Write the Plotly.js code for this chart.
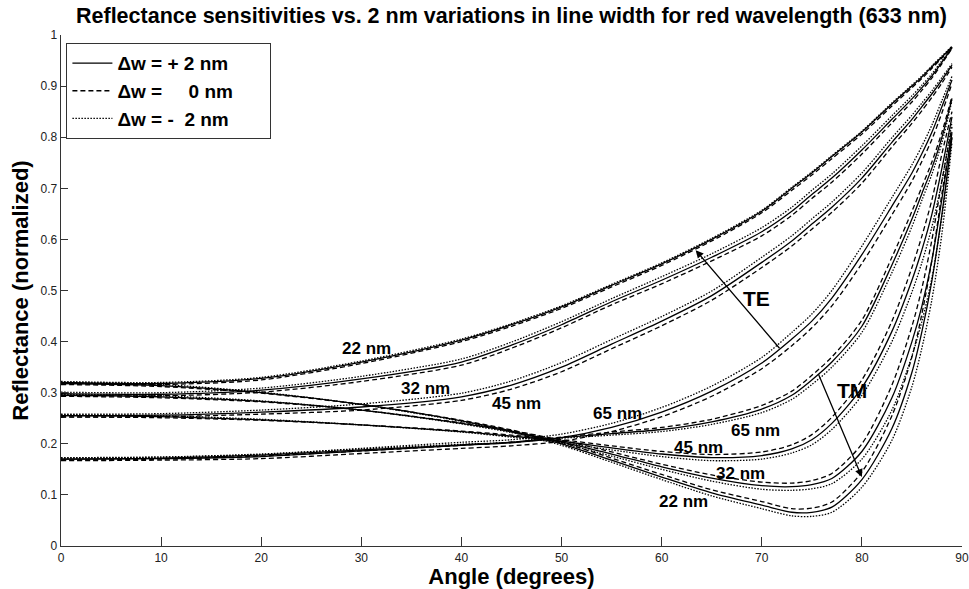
<!DOCTYPE html>
<html>
<head>
<meta charset="utf-8">
<script src="https://cdn.plot.ly/plotly-3.0.1.min.js"></script>
<style>html,body{margin:0;padding:0;background:#fff;}#chart{width:969px;height:589px;}</style>
</head>
<body>
<div id="chart"></div>
<script>
// Angle grid (degrees)
const angle = [0,10,20,30,40,45,50,55,60,65,70,73,75,77,80,83,85,86,87,88,89];

// Legend labels (line-width variation)
const variantLabels = ["\u0394w = + 2 nm", "\u0394w =  \u00A0\u00A0 0 nm", "\u0394w = - \u00A02 nm"];

// TE curves (rising)
const te22_p2 = [0.320,0.318,0.328,0.360,0.403,0.433,0.468,0.510,0.552,0.600,0.655,0.700,0.730,0.762,0.810,0.865,0.900,0.918,0.938,0.957,0.977];
const te22_0  = [0.318,0.316,0.325,0.357,0.400,0.430,0.465,0.507,0.549,0.597,0.652,0.696,0.726,0.758,0.806,0.861,0.897,0.915,0.935,0.955,0.976];
const te22_m2 = [0.322,0.320,0.330,0.362,0.405,0.435,0.470,0.512,0.554,0.602,0.657,0.702,0.732,0.764,0.812,0.867,0.902,0.920,0.940,0.959,0.978];

const te32_p2 = [0.298,0.297,0.305,0.327,0.360,0.393,0.433,0.478,0.520,0.565,0.615,0.655,0.688,0.720,0.775,0.835,0.875,0.897,0.920,0.947,0.975];
const te32_0  = [0.295,0.294,0.301,0.322,0.354,0.387,0.427,0.472,0.513,0.558,0.607,0.647,0.680,0.712,0.767,0.828,0.869,0.892,0.916,0.944,0.974];
const te32_m2 = [0.301,0.300,0.309,0.332,0.366,0.399,0.439,0.484,0.527,0.572,0.623,0.663,0.696,0.728,0.783,0.842,0.881,0.902,0.924,0.950,0.976];

const te45_p2 = [0.255,0.256,0.262,0.272,0.292,0.315,0.350,0.395,0.440,0.490,0.555,0.597,0.630,0.663,0.720,0.790,0.835,0.860,0.885,0.912,0.941];
const te45_0  = [0.252,0.253,0.258,0.266,0.285,0.307,0.341,0.386,0.431,0.481,0.545,0.587,0.620,0.653,0.710,0.781,0.827,0.852,0.878,0.906,0.937];
const te45_m2 = [0.258,0.259,0.266,0.278,0.299,0.323,0.359,0.404,0.449,0.499,0.565,0.607,0.640,0.673,0.730,0.799,0.843,0.867,0.891,0.917,0.944];

const te65_p2 = [0.170,0.171,0.175,0.186,0.197,0.202,0.212,0.232,0.262,0.303,0.358,0.405,0.440,0.485,0.570,0.665,0.730,0.768,0.810,0.860,0.912];
const te65_0  = [0.167,0.168,0.171,0.181,0.191,0.196,0.205,0.224,0.253,0.293,0.347,0.392,0.427,0.470,0.553,0.648,0.714,0.753,0.796,0.848,0.905];
const te65_m2 = [0.173,0.174,0.179,0.191,0.203,0.208,0.219,0.240,0.271,0.313,0.369,0.418,0.454,0.500,0.587,0.682,0.746,0.783,0.824,0.872,0.919];

// TM curves (dip then rise)
const tm22_p2 = [0.318,0.314,0.300,0.277,0.245,0.225,0.200,0.168,0.135,0.104,0.080,0.066,0.066,0.076,0.130,0.230,0.340,0.420,0.520,0.650,0.800];
const tm22_0  = [0.316,0.312,0.299,0.277,0.246,0.227,0.203,0.172,0.140,0.110,0.087,0.073,0.074,0.086,0.145,0.255,0.370,0.455,0.560,0.690,0.810];
const tm22_m2 = [0.320,0.316,0.301,0.277,0.244,0.223,0.197,0.164,0.130,0.098,0.073,0.059,0.058,0.066,0.115,0.207,0.312,0.388,0.483,0.612,0.790];

const tm32_p2 = [0.295,0.292,0.283,0.266,0.240,0.224,0.204,0.180,0.155,0.133,0.118,0.116,0.120,0.132,0.185,0.290,0.400,0.470,0.560,0.680,0.810];
const tm32_0  = [0.293,0.290,0.282,0.266,0.241,0.226,0.207,0.184,0.160,0.139,0.125,0.123,0.128,0.142,0.200,0.315,0.430,0.505,0.600,0.715,0.820];
const tm32_m2 = [0.297,0.294,0.284,0.266,0.239,0.222,0.201,0.176,0.150,0.127,0.111,0.109,0.112,0.122,0.170,0.266,0.372,0.440,0.525,0.645,0.800];

const tm45_p2 = [0.255,0.253,0.247,0.237,0.224,0.215,0.205,0.192,0.180,0.173,0.177,0.190,0.208,0.240,0.310,0.420,0.520,0.580,0.650,0.740,0.840];
const tm45_0  = [0.253,0.251,0.246,0.237,0.225,0.217,0.208,0.196,0.185,0.179,0.184,0.198,0.218,0.252,0.325,0.440,0.545,0.607,0.678,0.768,0.850];
const tm45_m2 = [0.257,0.255,0.248,0.237,0.223,0.213,0.202,0.188,0.175,0.167,0.170,0.182,0.198,0.228,0.295,0.400,0.497,0.555,0.625,0.715,0.830];

const tm65_p2 = [0.170,0.172,0.178,0.188,0.198,0.203,0.212,0.220,0.228,0.243,0.268,0.295,0.325,0.360,0.430,0.550,0.640,0.690,0.740,0.800,0.876];
const tm65_0  = [0.168,0.170,0.176,0.186,0.197,0.203,0.213,0.223,0.232,0.248,0.275,0.303,0.334,0.370,0.442,0.565,0.655,0.703,0.752,0.810,0.880];
const tm65_m2 = [0.172,0.174,0.180,0.190,0.199,0.203,0.211,0.217,0.224,0.238,0.261,0.287,0.316,0.350,0.418,0.535,0.625,0.677,0.728,0.790,0.872];

const curves = [
  {name:"TE 22 nm", v:[te22_p2, te22_0, te22_m2]},
  {name:"TE 32 nm", v:[te32_p2, te32_0, te32_m2]},
  {name:"TE 45 nm", v:[te45_p2, te45_0, te45_m2]},
  {name:"TE 65 nm", v:[te65_p2, te65_0, te65_m2]},
  {name:"TM 22 nm", v:[tm22_p2, tm22_0, tm22_m2]},
  {name:"TM 32 nm", v:[tm32_p2, tm32_0, tm32_m2]},
  {name:"TM 45 nm", v:[tm45_p2, tm45_0, tm45_m2]},
  {name:"TM 65 nm", v:[tm65_p2, tm65_0, tm65_m2]}
];

const dashes = ["solid", "5px,3px", "1.5px,1.5px"];
const traces = [];
curves.forEach((c, ci) => {
  c.v.forEach((ys, vi) => {
    traces.push({
      type: "scatter", mode: "lines",
      x: angle, y: ys,
      name: ci === 0 ? variantLabels[vi] + "\u00A0\u00A0\u00A0\u00A0\u00A0\u00A0" : c.name + " " + variantLabels[vi],
      legendgroup: "v" + vi,
      showlegend: ci === 0,
      line: {color: "#000", width: 1.3, dash: dashes[vi], shape: "spline", smoothing: 0.8},
      hoverinfo: "skip"
    });
  });
});

const lblFont = {family: "Liberation Sans, Arial, sans-serif", size: 17, color: "#000", weight: "bold"};
function lab(text, x, y, size) {
  return {text: text, x: x, y: y, xref: "x", yref: "y", showarrow: false,
          font: Object.assign({}, lblFont, size ? {size: size} : {})};
}
const annotations = [
  lab("22 nm", 30.5, 0.386),
  lab("32 nm", 36.4, 0.309),
  lab("45 nm", 45.5, 0.279),
  lab("65 nm", 55.6, 0.260),
  lab("65 nm", 69.4, 0.227),
  lab("45 nm", 63.7, 0.192),
  lab("32 nm", 67.9, 0.141),
  lab("22 nm", 62.2, 0.088),
  lab("TE", 69.5, 0.485, 21),
  lab("TM", 79.0, 0.305, 21),
  {x: 63.4, y: 0.579, ax: 71.9, ay: 0.384, xref: "x", yref: "y", axref: "x", ayref: "y",
   text: "", showarrow: true, arrowhead: 2, arrowsize: 1.2, arrowwidth: 1.3, arrowcolor: "#000", standoff: 0},
  {x: 80.0, y: 0.135, ax: 75.6, ay: 0.339, xref: "x", yref: "y", axref: "x", ayref: "y",
   text: "", showarrow: true, arrowhead: 2, arrowsize: 1.2, arrowwidth: 1.3, arrowcolor: "#000", standoff: 0}
];

const tickFont = {family: "Liberation Sans Narrow, Liberation Sans, Arial, sans-serif", size: 12, color: "#222"};
const layout = {
  width: 969, height: 589,
  margin: {l: 61, r: 7, t: 35, b: 43},
  paper_bgcolor: "#fff", plot_bgcolor: "#fff",
  showlegend: true,
  title: {text: "Reflectance sensitivities vs. 2 nm variations in line width for red wavelength (633 nm)",
          font: {family: "Liberation Sans, Arial, sans-serif", size: 21.5, color: "#000", weight: "bold"},
          x: 0.5, xref: "paper", xanchor: "center", y: 0.974, yref: "container", yanchor: "middle"},
  xaxis: {range: [0, 90], dtick: 10, tick0: 0, ticks: "inside", ticklen: 9, tickwidth: 1, tickcolor: "#333",
          showline: true, linecolor: "#333", linewidth: 1.3, showgrid: false, zeroline: false,
          tickfont: tickFont, automargin: false,
          title: {text: "Angle (degrees)", font: {family: "Liberation Sans, Arial, sans-serif", size: 22, color: "#000", weight: "bold"}, standoff: 4}},
  yaxis: {range: [0, 1], dtick: 0.1, tick0: 0, ticks: "inside", ticklen: 7, tickwidth: 1, tickcolor: "#333",
          showline: true, linecolor: "#333", linewidth: 1.3, showgrid: false, zeroline: false,
          tickfont: tickFont, automargin: false,
          title: {text: "Reflectance (normalized)", font: {family: "Liberation Sans, Arial, sans-serif", size: 22, color: "#000", weight: "bold"}, standoff: 6}},
  legend: {x: 0.006, y: 0.984, xanchor: "left", yanchor: "top", bgcolor: "#fff", bordercolor: "#333", borderwidth: 1,
           font: {family: "Liberation Sans, Arial, sans-serif", size: 19, color: "#000", weight: "bold"},
           tracegroupgap: 0, itemwidth: 40},
  annotations: annotations
};

Plotly.newPlot("chart", traces, layout, {displayModeBar: false, staticPlot: true});
</script>
</body>
</html>
